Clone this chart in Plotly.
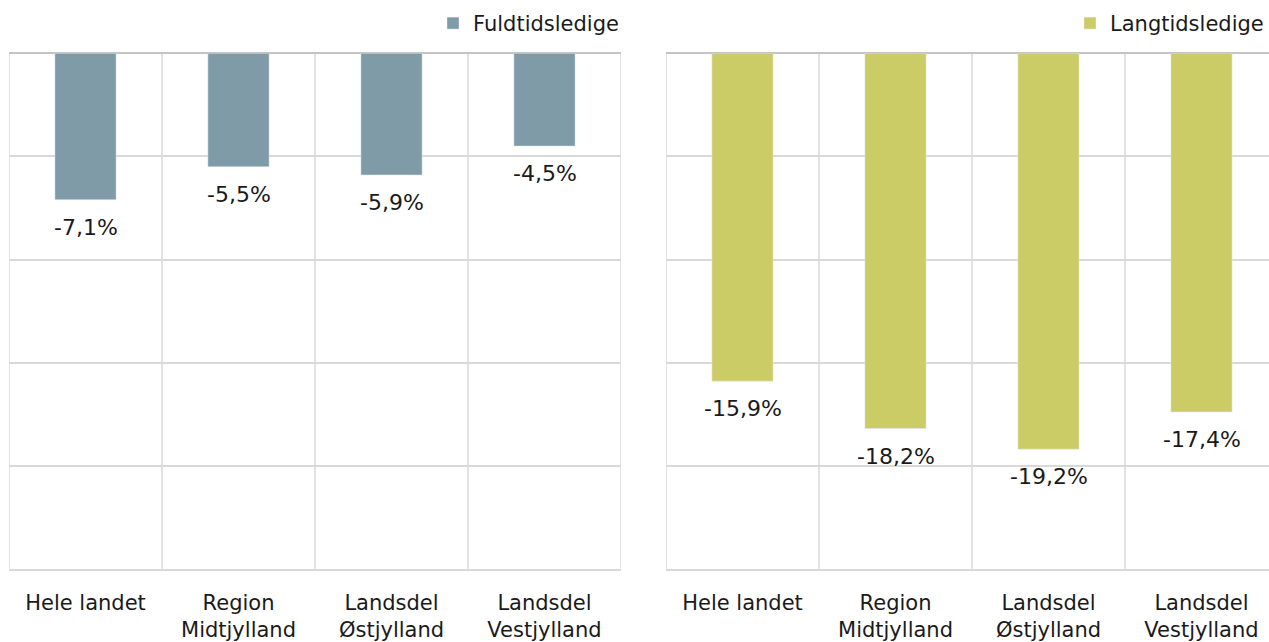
import plotly.graph_objects as go

categories = ["Hele landet", "Region<br>Midtjylland", "Landsdel<br>Østjylland", "Landsdel<br>Vestjylland"]
fuldtid = [-7.1, -5.5, -5.9, -4.5]
langtid = [-15.9, -18.2, -19.2, -17.4]
series_names = ["Fuldtidsledige", "Langtidsledige"]
colors = ["#7f9ba8", "#cccc66"]

W, H = 1269, 642
FONT = "DejaVu Sans"
n = len(categories)
xs = list(range(n))

fig = go.Figure()

fig.add_trace(go.Bar(x=xs, y=fuldtid, name=series_names[0], marker_color=colors[0],
                     width=0.4, xaxis="x", yaxis="y", legend="legend"))
fig.add_trace(go.Bar(x=xs, y=langtid, name=series_names[1], marker_color=colors[1],
                     width=0.4, xaxis="x2", yaxis="y2", legend="legend2"))

def fmt(v):
    return f"{v:.1f}%".replace(".", ",")

annotations = []
for vals, xr, yr in [(fuldtid, "x", "y"), (langtid, "x2", "y2")]:
    for i, v in enumerate(vals):
        annotations.append(dict(x=i, y=v, xref=xr, yref=yr, text=fmt(v), showarrow=False,
                                yanchor="top", yshift=-13,
                                font=dict(family=FONT, size=22, color="#1a1a1a")))

shapes = []
for xr, yr, edges in [("x", "y", [-0.5, 0.5, 1.5, 2.5, 3.5]), ("x2", "y2", [-0.5, 0.5, 1.5, 2.5])]:
    for e in edges:
        shapes.append(dict(type="line", xref=xr, yref=yr + " domain", x0=e, x1=e, y0=0, y1=1,
                           line=dict(color="#d9d9d9", width=1.5), layer="below"))

ydom = [(H - 576) / H, (H - 54) / H]
left_dom = [9 / W, 621 / W]
right_dom = [666 / W, 1.0]
cat_px = (621 - 9) / n
right_max = -0.5 + (W - 666) / cat_px

yax = dict(range=[-25, 0], dtick=5, showticklabels=False, showgrid=True, gridcolor="#d9d9d9",
           gridwidth=1.5, zeroline=True, zerolinecolor="#c4c4c4", zerolinewidth=2, fixedrange=True)
xax = dict(tickmode="array", tickvals=xs, ticktext=categories, showgrid=False, zeroline=False,
           showline=True, linecolor="#d9d9d9", linewidth=1.5,
           ticks="outside", ticklen=14, tickcolor="rgba(0,0,0,0)",
           tickfont=dict(family=FONT, size=21, color="#1a1a1a"))

legfont = dict(family=FONT, size=21, color="#1a1a1a")
fig.update_layout(
    width=W, height=H, autosize=False,
    margin=dict(l=0, r=0, t=0, b=0),
    paper_bgcolor="white", plot_bgcolor="white",
    showlegend=True,
    xaxis=dict(xax, domain=left_dom, range=[-0.5, 3.5], anchor="y"),
    yaxis=dict(yax, domain=ydom, anchor="x"),
    xaxis2=dict(xax, domain=right_dom, range=[-0.5, right_max], anchor="y2"),
    yaxis2=dict(yax, domain=ydom, anchor="x2"),
    legend=dict(x=624 / W, xanchor="right", y=(H - 3) / H, yanchor="top", orientation="h",
                font=legfont, itemwidth=30, bgcolor="rgba(0,0,0,0)"),
    legend2=dict(x=1.0, xanchor="right", y=(H - 3) / H, yanchor="top", orientation="h",
                 font=legfont, itemwidth=30, bgcolor="rgba(0,0,0,0)"),
    annotations=annotations,
    shapes=shapes,
    bargap=0.6,
)

fig.write_html("out.html", config={"displayModeBar": False},
               post_script="document.body.style.margin='0';document.body.style.overflow='hidden';")
